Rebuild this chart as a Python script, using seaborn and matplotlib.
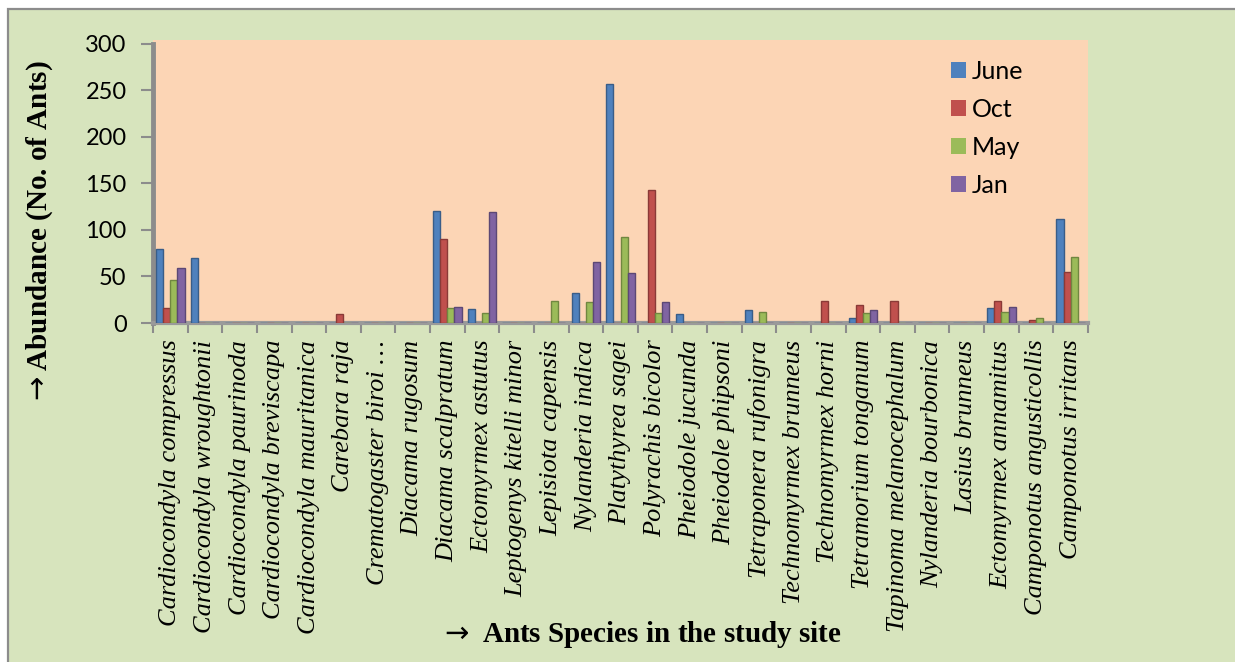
import numpy as np
import pandas as pd
import matplotlib
matplotlib.use("Agg")
import matplotlib.pyplot as plt
import seaborn as sns
from matplotlib.patches import Rectangle
from matplotlib.colors import to_rgb

# Ant species recorded at the study site
species = [
    "Cardiocondyla compressus", "Cardiocondyla wroughtonii", "Cardiocondyla paurinoda",
    "Cardiocondyla breviscapa", "Cardiocondyla mauritanica", "Carebara raja",
    "Crematogaster biroi …", "Diacama rugosum", "Diacama scalpratum",
    "Ectomyrmex astutus", "Leptogenys kitelli minor", "Lepisiota capensis",
    "Nylanderia indica", "Platythyrea sagei", "Polyrachis bicolor",
    "Pheiodole jucunda", "Pheiodole phipsoni", "Tetraponera rufonigra",
    "Technomyrmex brunneus", "Technomyrmex horni", "Tetramorium tonganum",
    "Tapinoma melanocephalum", "Nylanderia bourbonica", "Lasius brunneus",
    "Ectomyrmex annamitus", "Camponotus angusticollis", "Camponotus irritans",
]

# Abundance (number of ants) per sampling month
june = [80, 70, 0, 0, 0, 0, 0, 0, 120, 15, 0, 0, 32, 257, 0, 10, 0, 14, 0, 0, 5, 0, 0, 0, 16, 0, 112]
oct_ = [16, 0, 0, 0, 0, 10, 0, 0, 90, 0, 0, 0, 0, 0, 143, 0, 0, 0, 0, 24, 19, 24, 0, 0, 24, 3, 55]
may = [46, 0, 0, 0, 0, 0, 0, 0, 16, 11, 0, 24, 23, 92, 11, 0, 0, 12, 0, 0, 11, 0, 0, 0, 12, 5, 71]
jan = [59, 0, 0, 0, 0, 0, 0, 0, 17, 119, 0, 0, 65, 54, 23, 0, 0, 0, 0, 0, 14, 0, 0, 0, 17, 0, 0]

months = ["June", "Oct", "May", "Jan"]
colors = ["#4F81BD", "#C0504D", "#9BBB59", "#8064A2"]
yticks = [0, 50, 100, 150, 200, 250, 300]

df = pd.DataFrame({
    "species": np.repeat(species, 4),
    "month": months * len(species),
    "count": np.ravel(np.column_stack([june, oct_, may, jan])),
})

sns.set_theme(style="white")
plt.rcParams["font.family"] = ["Liberation Serif", "DejaVu Sans"]
plt.rcParams["text.color"] = "black"
plt.rcParams["xtick.color"] = "black"
plt.rcParams["ytick.color"] = "black"

W, H = 1235, 662
fig = plt.figure(figsize=(W / 100, H / 100), dpi=100)
fig.patch.set_facecolor("white")

# green chart panel with a grey frame on the top and left
panel = Rectangle((8 / W, -0.01), 1.02, 1 - 9 / H + 0.01,
                  transform=fig.transFigure, facecolor="#D7E4BD",
                  edgecolor="#8C8C8C", lw=1.6, zorder=-5)
fig.patches.append(panel)

left, right = 153 / W, 1088 / W
bottom, top = 1 - 323 / H, 1 - 40 / H
ax = fig.add_axes([left, bottom, right - left, top - bottom], zorder=2)
ax.set_facecolor("#FCD5B5")

sns.barplot(data=df, x="species", y="count", hue="month", order=species,
            hue_order=months, palette=colors, saturation=1, width=0.82,
            errorbar=None, ax=ax, zorder=3)

# darker edge on each bar for a shaded look
for cont, c in zip(ax.containers, colors):
    dark = tuple(v * 0.72 for v in to_rgb(c))
    for bar in cont:
        bar.set_edgecolor(dark)
        bar.set_linewidth(1.0)

ax.set_xlim(-0.5, len(species) - 0.5)
ax.set_ylim(0, 304)
ax.set_yticks(yticks)
ax.set_yticklabels([str(v) for v in yticks], fontfamily="Lato", fontsize=17)

ax.set_xticks(range(len(species)))
ax.set_xticklabels(species, rotation=90, fontstyle="italic", fontsize=19,
                   fontfamily="Liberation Serif")
ax.set_xticks(np.arange(-0.5, len(species), 1.0), minor=True)
ax.tick_params(axis="x", which="major", length=0, pad=12)
ax.tick_params(axis="x", which="minor", length=7, width=1.5, color="#8C8C8C",
               direction="out", bottom=True)
ax.tick_params(axis="y", length=9, width=1.5, color="#8C8C8C", direction="out",
               pad=10, left=True)

for s in ["top", "right"]:
    ax.spines[s].set_visible(False)
ax.spines["left"].set_color("#8C8C8C")
ax.spines["left"].set_linewidth(3.5)
ax.spines["left"].set_bounds(0, 300)
ax.spines["bottom"].set_color("#9A9A9A")
ax.spines["bottom"].set_linewidth(3)

ax.set_xlabel("")
ax.set_ylabel("")
fig.text(640 / W, 1 - 634 / H, r"$\rightarrow$ Ants Species in the study site",
         ha="center", va="center", fontsize=21, fontweight="bold")
fig.text(40 / W, 1 - 233 / H, r"$\rightarrow$Abundance (No. of Ants)",
         ha="center", va="center", rotation=90, fontsize=21, fontweight="bold")

leg = ax.legend(loc="upper left", bbox_to_anchor=((938 - 153) / 935, 0.975),
                frameon=False, borderpad=0, handlelength=0.6, handleheight=0.6,
                handletextpad=0.25, labelspacing=0.6,
                prop={"family": "Lato", "size": 18})
for h in leg.legend_handles:
    h.set_edgecolor("none")

fig.savefig("out.png", dpi=100, facecolor=fig.get_facecolor())
